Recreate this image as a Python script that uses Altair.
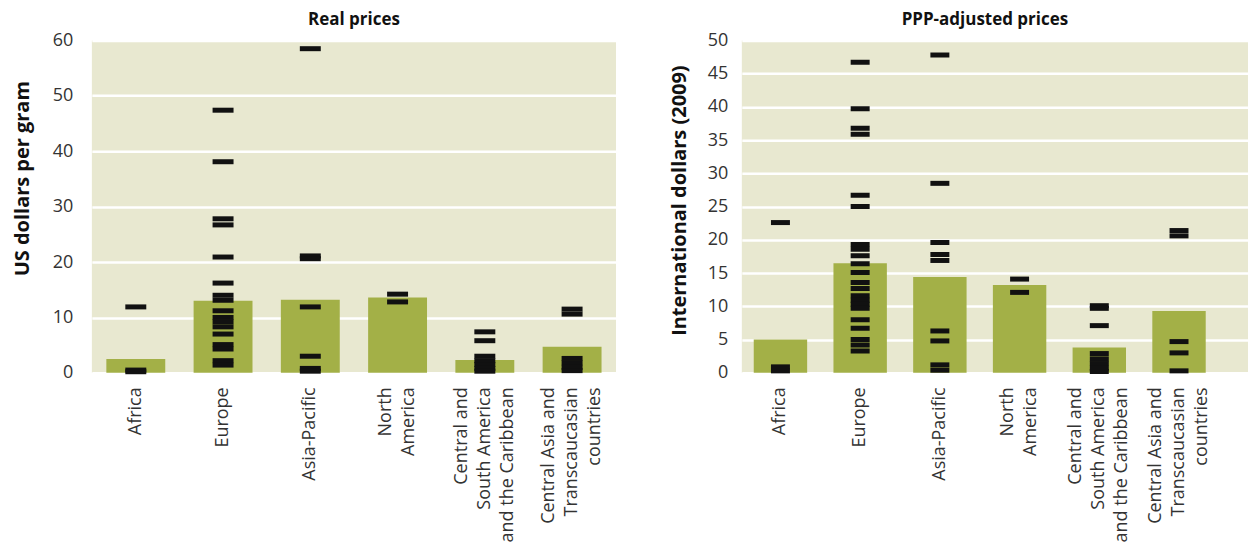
import altair as alt
import pandas as pd

FONT = "Open Sans"

regions = [
    "Africa",
    "Europe",
    "Asia-Pacific",
    "North|America",
    "Central and|South America|and the Caribbean",
    "Central Asia and|Transcaucasian|countries",
]

# Bar values (regional averages)
real_bars = [2.5, 13.0, 13.2, 13.6, 2.3, 4.7]
ppp_bars = [5.0, 16.5, 14.4, 13.2, 3.8, 9.3]

# Individual country prices (tick marks)
real_africa = [11.9, 0.5, 0.2]
real_europe = [47.4, 38.1, 27.8, 26.7, 20.9, 16.2, 14.0, 13.1, 11.2, 10.0, 9.2, 8.3, 7.0, 5.1, 4.3, 2.2, 1.4]
real_asia = [58.5, 21.1, 20.6, 11.9, 3.0, 0.8, 0.3]
real_namerica = [14.2, 12.8]
real_csamerica = [7.4, 5.8, 3.0, 2.2, 1.5, 0.8, 0.3]
real_casia = [11.5, 10.6, 2.6, 1.8, 1.0, 0.4]

ppp_africa = [22.6, 0.9, 0.3]
ppp_europe = [46.7, 39.7, 36.8, 35.9, 26.7, 25.0, 19.3, 18.6, 17.6, 16.4, 15.1, 13.6, 12.7,
              11.6, 10.9, 10.3, 9.7, 8.0, 6.7, 5.0, 4.2, 3.3]
ppp_asia = [47.8, 28.5, 19.6, 17.8, 16.9, 6.3, 4.8, 1.2, 0.4]
ppp_namerica = [14.1, 12.1]
ppp_csamerica = [10.1, 9.7, 7.1, 2.9, 2.1, 1.4, 0.7, 0.2]
ppp_casia = [21.4, 20.6, 4.7, 3.0, 0.3]

real_ticks = [real_africa, real_europe, real_asia, real_namerica, real_csamerica, real_casia]
ppp_ticks = [ppp_africa, ppp_europe, ppp_asia, ppp_namerica, ppp_csamerica, ppp_casia]

BG = "#E8E8D0"
BAR = "#A3B047"
TICK = "#111111"
LINE_H = 23


def make_frame(bars, ticks):
    rows = []
    for r, b in zip(regions, bars):
        rows.append({"region": r, "value": b, "kind": "bar"})
    for r, vals in zip(regions, ticks):
        for v in vals:
            rows.append({"region": r, "value": v, "kind": "tick"})
    return pd.DataFrame(rows)


label_offset = {
    "condition": [
        {"test": "length(split(datum.value, '|')) == 3", "value": -LINE_H},
        {"test": "length(split(datum.value, '|')) == 2", "value": -LINE_H / 2},
    ],
    "value": 0,
}


def panel(bars, ticks, title, ytitle, ymax, ystep, width, scale_kw, tick_size,
          label_pad, title_pad, title_y, title_dx):
    df = make_frame(bars, ticks)
    xenc = alt.X(
        "region:N",
        sort=regions,
        title=None,
        scale=alt.Scale(**scale_kw),
        axis=alt.Axis(
            labelAngle=-90,
            labelAlign="right",
            labelBaseline="middle",
            labelExpr="split(datum.label, '|')",
            labelOffset=label_offset,
            labelFont=FONT,
            labelFontSize=18,
            labelLineHeight=LINE_H,
            labelColor="#333333",
            labelPadding=14,
            labelLimit=400,
            labelOverlap=False,
            ticks=False,
            domain=False,
            grid=False,
        ),
    )
    yenc = alt.Y(
        "value:Q",
        scale=alt.Scale(domain=[0, ymax], nice=False),
        title=ytitle,
        axis=alt.Axis(
            values=list(range(0, ymax + 1, ystep)),
            labelOverlap=False,
            labelFont=FONT,
            labelFontSize=18,
            labelColor="#333333",
            labelPadding=label_pad,
            titleFont=FONT,
            titleFontSize=20,
            titleFontWeight="bold",
            titleColor="#111111",
            titlePadding=title_pad,
            titleY=title_y,
            ticks=False,
            domain=False,
            grid=True,
            gridColor="white",
            gridWidth=2.5,
        ),
    )
    base = alt.Chart(df).encode(x=xenc, y=yenc)
    bar_layer = base.mark_bar(color=BAR).transform_filter("datum.kind == 'bar'")
    tick_layer = base.mark_tick(
        color=TICK, opacity=1, thickness=5, size=tick_size
    ).transform_filter("datum.kind == 'tick'")
    return alt.layer(bar_layer, tick_layer).properties(
        width=width,
        height=333,
        title=alt.TitleParams(
            title, font=FONT, fontSize=17, fontWeight="bold", color="#111111",
            anchor="middle", offset=2, dx=title_dx,
        ),
    )


left = panel(real_bars, real_ticks, "Real prices", "US dollars per gram", 60, 10, 525,
             dict(paddingInner=0.325, paddingOuter=0.166), 21, 19, 20, 138, 0)
right = panel(ppp_bars, ppp_ticks, "PPP-adjusted prices", "International dollars (2009)", 50, 5, 507,
              dict(paddingInner=0.33, paddingOuter=0.34, align=0.22), 19, 14, 18, 160, -10)

chart = alt.hconcat(left, right, spacing=53, padding={"left": 4, "top": 3, "right": 0, "bottom": 0}).configure_view(
    fill=BG, stroke=None
)

chart.save("out.html", embed_options={"renderer": "svg", "actions": False})
